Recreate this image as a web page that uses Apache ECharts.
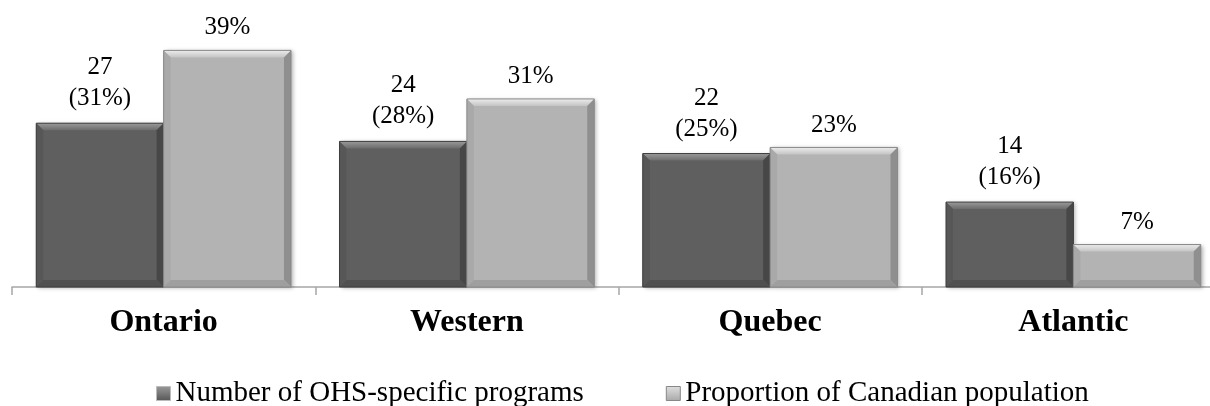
<!DOCTYPE html>
<html>
<head>
<meta charset="utf-8">
<script src="https://cdn.jsdelivr.net/npm/echarts@6/dist/echarts.min.js"></script>
<style>html,body{margin:0;padding:0;background:#fff;overflow:hidden;}#c{width:1225px;height:406px;}</style>
</head>
<body>
<div id="c"></div>
<script>
const categories = ['Ontario', 'Western', 'Quebec', 'Atlantic'];
const programCounts = [27, 24, 22, 14];
const programShares = ['31%', '28%', '25%', '16%'];
const populationPct = [39, 31, 23, 7];
const seriesNames = ['Number of OHS-specific programs', 'Proportion of Canadian population'];

const font = '"Liberation Serif", "Times New Roman", serif';
const BAR_FRAC = 0.42;

const darkBevel = {face: '#5f5f5f', top: ['#9a9a9a', '#6c6c6c'], left: '#575757', right: '#474747', bottom: '#505050', edge: '#3e3e3e'};
const lightBevel = {face: '#b3b3b3', top: ['#ececec', '#c4c4c4'], left: '#a9a9a9', right: '#8f8f8f', bottom: '#9f9f9f', edge: '#8a8a8a'};

function bevelRender(side, c) {
  return function (params, api) {
    const i = api.value(0), v = api.value(1);
    const top = api.coord([i, v]);
    const base = api.coord([i, 0]);
    const band = api.size([1, 0])[0];
    const w = band * BAR_FRAC;
    const x0 = side === 0 ? top[0] - w : top[0];
    const x1 = x0 + w;
    const y0 = top[1], y1 = base[1];
    const b = Math.min(7, (y1 - y0) / 2);
    const poly = (pts, fill) => ({type: 'polygon', shape: {points: pts}, style: {fill: fill}, silent: true});
    return {
      type: 'group',
      children: [
        poly([[x0, y0], [x1, y0], [x1 - b, y0 + b], [x0 + b, y0 + b]],
          new echarts.graphic.LinearGradient(0, 0, 0, 1, [{offset: 0, color: c.top[0]}, {offset: 1, color: c.top[1]}])),
        poly([[x0, y0], [x0 + b, y0 + b], [x0 + b, y1 - b], [x0, y1]], c.left),
        poly([[x1, y0], [x1, y1], [x1 - b, y1 - b], [x1 - b, y0 + b]], c.right),
        poly([[x0, y1], [x0 + b, y1 - b], [x1 - b, y1 - b], [x1, y1]], c.bottom),
        {type: 'rect', shape: {x: x0, y: y0, width: w, height: y1 - y0},
          style: {fill: null, stroke: c.edge, lineWidth: 1}, silent: true}
      ]
    };
  };
}

const chart = echarts.init(document.getElementById('c'), null, {renderer: 'canvas'});
chart.setOption({
  animation: false,
  backgroundColor: '#fff',
  grid: {left: 12, right: 0, top: 14, bottom: 119, containLabel: false},
  legend: {
    left: 151, top: 374,
    itemWidth: 14, itemHeight: 14, itemGap: 82,
    icon: 'rect',
    textStyle: {fontFamily: font, fontSize: 29, color: '#000'},
    data: [
      {name: seriesNames[0], itemStyle: {color: new echarts.graphic.LinearGradient(0, 0, 0, 1, [{offset: 0, color: '#9a9a9a'}, {offset: 1, color: '#555'}]), borderColor: '#bbb', borderWidth: 1}},
      {name: seriesNames[1], itemStyle: {color: new echarts.graphic.LinearGradient(0, 0, 0, 1, [{offset: 0, color: '#e0e0e0'}, {offset: 1, color: '#a8a8a8'}]), borderColor: '#888', borderWidth: 1}}
    ]
  },
  xAxis: {
    type: 'category',
    data: categories,
    axisLine: {lineStyle: {color: '#a6a6a6', width: 1.5}},
    axisTick: {show: true, length: 8, lineStyle: {color: '#a6a6a6', width: 1.5}},
    axisLabel: {fontFamily: font, fontSize: 32, fontWeight: 'bold', color: '#000', margin: 20}
  },
  yAxis: {
    type: 'value', min: 0, max: 45, show: false,
    splitLine: {show: false}
  },
  series: [
    {
      name: seriesNames[0],
      type: 'bar',
      data: programCounts,
      barGap: '0%',
      barCategoryGap: '16%',
      z: 2,
      itemStyle: {color: darkBevel.face,
        shadowColor: 'rgba(0,0,0,0.3)', shadowBlur: 4, shadowOffsetX: 2, shadowOffsetY: 1},
      label: {
        show: true, position: 'top', distance: 9,
        fontFamily: font, fontSize: 25, color: '#000', lineHeight: 31, align: 'center',
        formatter: p => p.value + '\n(' + programShares[p.dataIndex] + ')'
      }
    },
    {
      name: seriesNames[1],
      type: 'bar',
      data: populationPct,
      z: 2,
      itemStyle: {color: lightBevel.face,
        shadowColor: 'rgba(0,0,0,0.3)', shadowBlur: 4, shadowOffsetX: 2, shadowOffsetY: 1},
      label: {
        show: true, position: 'top', distance: 10,
        fontFamily: font, fontSize: 25, color: '#000',
        formatter: p => p.value + '%'
      }
    },
    {
      type: 'custom', silent: true, z: 3,
      data: programCounts.map((v, i) => [i, v]),
      renderItem: bevelRender(0, darkBevel)
    },
    {
      type: 'custom', silent: true, z: 3,
      data: populationPct.map((v, i) => [i, v]),
      renderItem: bevelRender(1, lightBevel)
    }
  ]
});
</script>
</body>
</html>
